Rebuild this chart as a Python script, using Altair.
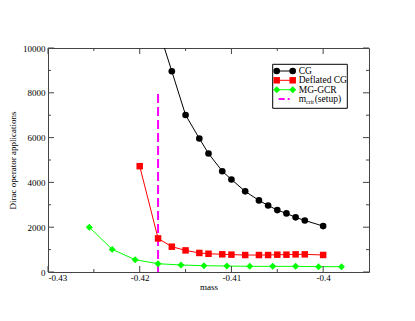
import altair as alt
import pandas as pd

# ---- data ----
cg_mass = [-0.418, -0.4165, -0.415, -0.4135, -0.4125, -0.411, -0.410, -0.4085,
           -0.407, -0.406, -0.405, -0.404, -0.403, -0.402, -0.400]
cg_val = [10900, 8960, 7010, 5960, 5290, 4500, 4130, 3600, 3195, 2970, 2765,
          2615, 2440, 2300, 2050]

dcg_mass = [-0.420, -0.418, -0.4165, -0.415, -0.4135, -0.4125, -0.411, -0.410,
            -0.4085, -0.407, -0.406, -0.405, -0.404, -0.403, -0.402, -0.400]
dcg_val = [4725, 1500, 1130, 965, 850, 815, 790, 775, 758, 758, 758, 773, 773,
           788, 788, 760]

mg_mass = [-0.4255, -0.423, -0.4205, -0.418, -0.4155, -0.413, -0.4105, -0.408,
           -0.4055, -0.403, -0.4005, -0.398]
mg_val = [2000, 1010, 550, 370, 312, 282, 267, 253, 253, 253, 238, 238]

mcrit_mass = [-0.418]
mcrit_top = [8000]

x_major = [-0.43, -0.42, -0.41, -0.40]
x_minor = [-0.425, -0.415, -0.405]
y_major = [0, 2000, 4000, 6000, 8000, 10000]
y_minor = [1000, 3000, 5000, 7000, 9000]

legend_labels = ["CG", "Deflated CG", "MG-GCR"]

W, H = 321, 224
FONT = "Liberation Serif"
FS = 9
FRAME = "#444444"

xs = alt.Scale(domain=[-0.43, -0.395], nice=False, zero=False)
ys = alt.Scale(domain=[0, 10000], nice=False)

cg = pd.DataFrame({"mass": cg_mass, "val": cg_val})
dcg = pd.DataFrame({"mass": dcg_mass, "val": dcg_val})
mg = pd.DataFrame({"mass": mg_mass, "val": mg_val})
mc = pd.DataFrame({"mass": mcrit_mass, "val": [0], "top": mcrit_top})

axis_style = dict(labelFont=FONT, titleFont=FONT, labelFontSize=FS, titleFontSize=FS,
                  labelColor="black", titleColor="black", titleFontWeight="normal",
                  ticks=False, tickSize=0, grid=False, domain=False)

base_x = alt.X("mass:Q", scale=xs,
               axis=alt.Axis(values=x_major, title="mass", labelPadding=1,
                             titleY=17, titleBaseline="alphabetic",
                             labelExpr="'-' + format(abs(datum.value), '.2~f')",
                             **axis_style))
base_y = alt.Y("val:Q", scale=ys,
               axis=alt.Axis(values=y_major, title="Dirac operator applications",
                             labelPadding=3, titlePadding=5, format="d",
                             **axis_style))

axes = alt.Chart(cg).mark_point(opacity=0).encode(x=base_x, y=base_y)

def series(df, color, shape, size):
    line = alt.Chart(df).mark_line(color=color, strokeWidth=1, clip=True).encode(
        x=alt.X("mass:Q", scale=xs), y=alt.Y("val:Q", scale=ys))
    pts = alt.Chart(df).mark_point(color=color, fill=color, filled=True, shape=shape,
                                   size=size, opacity=1, clip=True).encode(
        x=alt.X("mass:Q", scale=xs), y=alt.Y("val:Q", scale=ys))
    return line + pts

mcrit = alt.Chart(mc).mark_rule(color="#ff00ff", strokeWidth=2,
                                strokeDash=[9, 4]).encode(
    x=alt.X("mass:Q", scale=xs), y=alt.Y("val:Q", scale=ys), y2="top:Q")

def ticks(vals, axis, length):
    df = pd.DataFrame({"v": vals})
    out = []
    if axis == "x":
        enc_x = alt.X("v:Q", scale=xs)
        out.append(alt.Chart(df).mark_rule(color=FRAME, strokeWidth=1).encode(
            x=enc_x, y=alt.value(H), y2=alt.value(H - length)))
        out.append(alt.Chart(df).mark_rule(color=FRAME, strokeWidth=1).encode(
            x=enc_x, y=alt.value(0), y2=alt.value(length)))
    else:
        enc_y = alt.Y("v:Q", scale=ys)
        out.append(alt.Chart(df).mark_rule(color=FRAME, strokeWidth=1).encode(
            y=enc_y, x=alt.value(0), x2=alt.value(length)))
        out.append(alt.Chart(df).mark_rule(color=FRAME, strokeWidth=1).encode(
            y=enc_y, x=alt.value(W), x2=alt.value(W - length)))
    return out

tick_layers = (ticks(x_major, "x", 6) + ticks(x_minor, "x", 3) +
               ticks(y_major, "y", 6) + ticks(y_minor, "y", 3))

# ---- manual legend ----
one = pd.DataFrame({"a": [0]})
LX0, LX1, LY0, LY1 = 224.7, 299.3, 16.3, 60.3
rows = [23.0, 32.3, 41.7, 51.0]
sx0, sx1, tx = 228.7, 244.7, 250.7

CS, SS, DS = 44, 42, 48

leg = [alt.Chart(one).mark_rect(fill="white", stroke="black", strokeWidth=1).encode(
    x=alt.value(LX0), x2=alt.value(LX1), y=alt.value(LY0), y2=alt.value(LY1))]
specs = [("black", "circle", CS), ("#ff0000", "square", SS), ("#00ff00", "diamond", DS)]
for (col, shp, sz), lab, ry in zip(specs, legend_labels, rows):
    leg.append(alt.Chart(one).mark_rule(color=col, strokeWidth=1).encode(
        x=alt.value(sx0), x2=alt.value(sx1), y=alt.value(ry)))
    for px in (sx0, sx1):
        leg.append(alt.Chart(one).mark_point(color=col, fill=col, filled=True,
                                             shape=shp, size=sz, opacity=1).encode(
            x=alt.value(px), y=alt.value(ry)))
    leg.append(alt.Chart(one).mark_text(text=lab, font=FONT, fontSize=9.5, align="left",
                                        baseline="middle", color="black").encode(
        x=alt.value(tx), y=alt.value(ry)))
ry = rows[3]
leg.append(alt.Chart(one).mark_rule(color="#ff00ff", strokeWidth=2,
                                    strokeDash=[6, 3, 2, 3]).encode(
    x=alt.value(230.7), x2=alt.value(242.7), y=alt.value(ry)))
leg.append(alt.Chart(one).mark_text(text="m", font=FONT, fontSize=9.5, align="left",
                                    baseline="middle", color="black").encode(
    x=alt.value(tx), y=alt.value(ry)))
leg.append(alt.Chart(one).mark_text(text="crit", font=FONT, fontSize=6, align="left",
                                    baseline="middle", color="black").encode(
    x=alt.value(258.0), y=alt.value(ry + 3)))
leg.append(alt.Chart(one).mark_text(text="(setup)", font=FONT, fontSize=9.5, align="left",
                                    baseline="middle", color="black").encode(
    x=alt.value(266.7), y=alt.value(ry)))

chart = alt.layer(
    axes,
    mcrit,
    series(mg, "#00ff00", "diamond", DS),
    series(dcg, "#ff0000", "square", SS),
    series(cg, "black", "circle", CS),
    *tick_layers,
    *leg,
).properties(
    width=W, height=H,
    background="white",
    autosize=alt.AutoSizeParams(type="none"),
    padding={"left": 40, "top": 40, "right": 38, "bottom": 40},
).configure_view(stroke=FRAME, strokeWidth=1)

chart.save("out.html", embed_options={"renderer": "svg", "actions": False})
